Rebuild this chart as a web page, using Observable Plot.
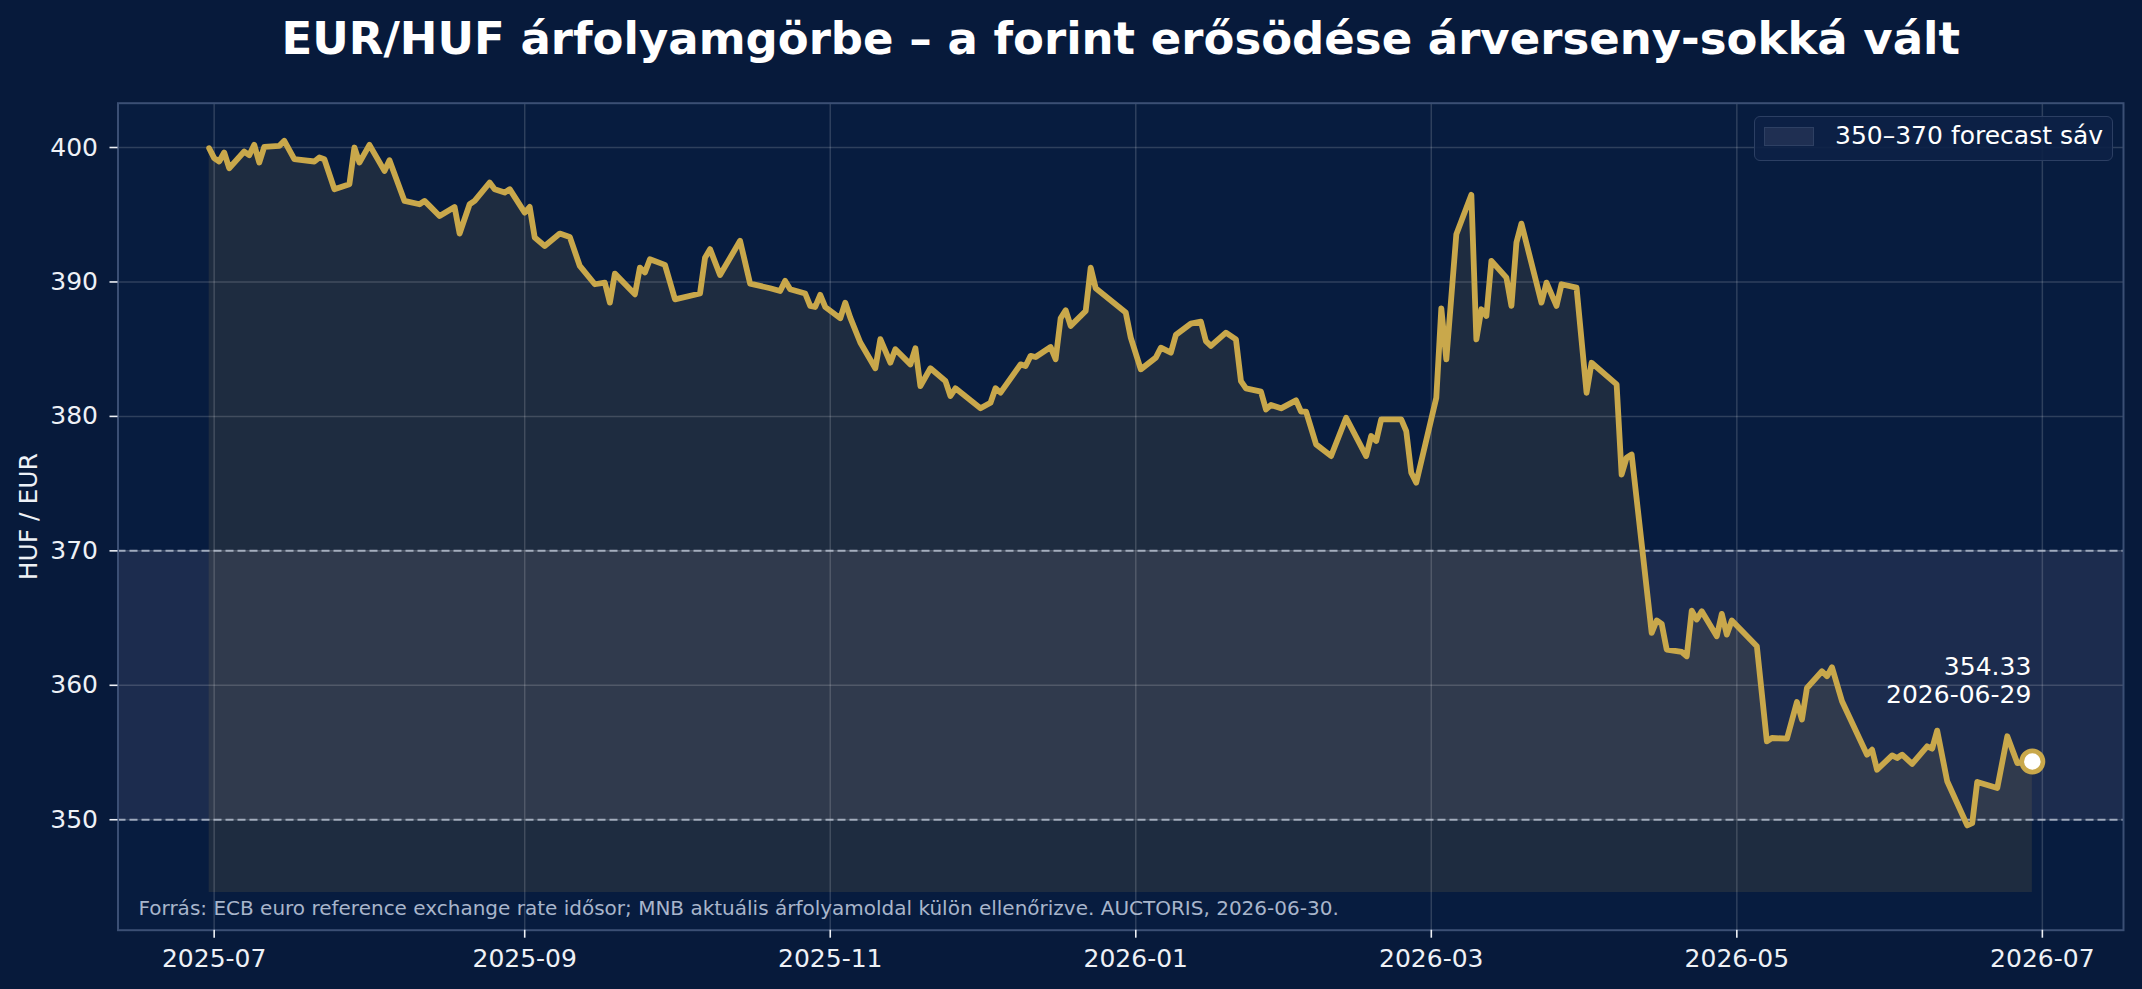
<!DOCTYPE html>
<html>
<head>
<meta charset="utf-8">
<script src="https://cdn.jsdelivr.net/npm/d3@7"></script>
<script src="https://cdn.jsdelivr.net/npm/@observablehq/plot@0.6"></script>
<style>
  html, body { margin: 0; padding: 0; background: #071a3b; }
  #wrap { position: relative; width: 2142px; height: 989px; overflow: hidden; }
  #legend {
    position: absolute; left: 1754px; top: 116px; width: 357px; height: 43px;
    border: 1.5px solid #2c3f63; border-radius: 6px; background: rgba(13,33,70,0.9);
    font-family: "DejaVu Sans", sans-serif; font-size: 25px; color: #ffffff;
  }
  #legend .patch {
    position: absolute; left: 9px; top: 10px; width: 48px; height: 17px;
    background: #1f2f52; border: 1.5px solid #2e4063;
  }
  #legend .lbl { position: absolute; left: 80px; top: 4px; white-space: nowrap; }
</style>
</head>
<body>
<div id="wrap"><div id="legend"><div class="patch"></div><div class="lbl">350–370 forecast sáv</div></div></div>
<script>
const titleText = "EUR/HUF árfolyamgörbe – a forint erősödése árverseny-sokká vált";
const captionText = "Forrás: ECB euro reference exchange rate idősor; MNB aktuális árfolyamoldal külön ellenőrizve. AUCTORIS, 2026-06-30.";
const yLabel = "HUF / EUR";

const dates = [
  "2025-06-30","2025-07-01","2025-07-02","2025-07-03","2025-07-04","2025-07-07","2025-07-08","2025-07-09","2025-07-10","2025-07-11",
  "2025-07-14","2025-07-15","2025-07-17","2025-07-21","2025-07-22","2025-07-23","2025-07-25","2025-07-28","2025-07-29","2025-07-30",
  "2025-08-01","2025-08-04","2025-08-05","2025-08-08","2025-08-11","2025-08-12","2025-08-13","2025-08-15","2025-08-18","2025-08-19",
  "2025-08-21","2025-08-22","2025-08-25","2025-08-26","2025-08-28","2025-08-29","2025-09-01","2025-09-02","2025-09-03","2025-09-05",
  "2025-09-08","2025-09-10","2025-09-12","2025-09-15","2025-09-17","2025-09-18","2025-09-19","2025-09-23","2025-09-24","2025-09-25",
  "2025-09-26","2025-09-29","2025-10-01","2025-10-06","2025-10-07","2025-10-08","2025-10-10","2025-10-14","2025-10-16","2025-10-20",
  "2025-10-22","2025-10-23","2025-10-24","2025-10-27","2025-10-28","2025-10-29","2025-10-30","2025-10-31","2025-11-03","2025-11-04",
  "2025-11-05","2025-11-07","2025-11-10","2025-11-11","2025-11-13","2025-11-14","2025-11-17","2025-11-18","2025-11-19","2025-11-21",
  "2025-11-24","2025-11-25","2025-11-26","2025-12-01","2025-12-03","2025-12-04","2025-12-05","2025-12-09","2025-12-10","2025-12-11",
  "2025-12-12","2025-12-15","2025-12-16","2025-12-17","2025-12-18","2025-12-19","2025-12-22","2025-12-23","2025-12-24","2025-12-30",
  "2025-12-31","2026-01-02","2026-01-05","2026-01-06","2026-01-08","2026-01-09","2026-01-12","2026-01-14","2026-01-15","2026-01-16",
  "2026-01-19","2026-01-21","2026-01-22","2026-01-23","2026-01-26","2026-01-27","2026-01-28","2026-01-30","2026-02-02","2026-02-03",
  "2026-02-04","2026-02-06","2026-02-09","2026-02-12","2026-02-16","2026-02-17","2026-02-18","2026-02-19","2026-02-23","2026-02-24",
  "2026-02-25","2026-02-26","2026-03-02","2026-03-03","2026-03-04","2026-03-06","2026-03-09","2026-03-10","2026-03-11","2026-03-12",
  "2026-03-13","2026-03-16","2026-03-17","2026-03-18","2026-03-19","2026-03-23","2026-03-24","2026-03-26","2026-03-27","2026-03-30",
  "2026-04-01","2026-04-02","2026-04-07","2026-04-08","2026-04-09","2026-04-10","2026-04-14","2026-04-15","2026-04-16","2026-04-17",
  "2026-04-20","2026-04-21","2026-04-22","2026-04-23","2026-04-24","2026-04-27","2026-04-28","2026-04-29","2026-04-30","2026-05-05",
  "2026-05-07","2026-05-08","2026-05-11","2026-05-13","2026-05-14","2026-05-15","2026-05-18","2026-05-19","2026-05-20","2026-05-22",
  "2026-05-27","2026-05-28","2026-05-29","2026-06-01","2026-06-02","2026-06-03","2026-06-05","2026-06-08","2026-06-09","2026-06-10",
  "2026-06-12","2026-06-16","2026-06-17","2026-06-18","2026-06-22","2026-06-24","2026-06-26","2026-06-29"
];
const rates = [
  399.95,399.21,398.96,399.63,398.46,399.70,399.43,400.20,398.88,400.05,
  400.12,400.50,399.13,398.96,399.26,399.13,396.90,397.27,400.00,398.88,
  400.20,398.26,399.06,396.03,395.78,396.03,395.66,394.91,395.58,393.60,
  395.78,396.03,397.39,396.90,396.65,396.90,395.16,395.58,393.30,392.68,
  393.60,393.35,391.19,389.83,389.95,388.46,390.62,389.08,391.07,390.70,
  391.69,391.27,388.71,389.14,391.80,392.44,390.52,393.06,389.88,389.53,
  389.33,390.08,389.46,389.14,388.22,388.14,389.04,388.14,387.30,388.46,
  387.35,385.50,383.58,385.74,384.00,385.00,383.87,385.07,382.26,383.58,
  382.63,381.52,382.09,380.60,381.02,382.09,381.77,383.87,383.75,384.50,
  384.42,385.16,384.25,387.30,387.90,386.73,387.84,391.07,389.53,387.72,
  385.86,383.50,384.37,385.11,384.74,386.06,386.90,387.05,385.60,385.24,
  386.23,385.73,382.63,382.09,381.84,380.52,380.85,380.60,381.19,380.35,
  380.35,377.92,377.05,379.90,377.05,378.54,378.17,379.78,379.78,378.91,
  375.81,375.07,381.39,388.04,384.24,393.55,396.48,385.73,387.97,387.47,
  391.57,390.32,388.22,392.93,394.34,388.46,389.95,388.22,389.83,389.58,
  381.76,383.99,382.38,375.68,376.93,377.17,363.90,364.82,364.57,362.66,
  362.48,362.16,365.56,364.89,365.51,363.65,365.31,363.77,364.82,362.90,
  355.83,356.08,356.03,358.76,357.45,359.80,361.04,360.67,361.34,358.81,
  354.84,355.21,353.72,354.79,354.59,354.84,354.15,355.46,355.29,356.63,
  352.86,349.58,349.75,352.81,352.36,356.21,354.22,354.33
];
const bandLow = [350];
const bandHigh = [370];
const xTickLabels = ["2025-07-01","2025-09-01","2025-11-01","2026-01-01","2026-03-01","2026-05-01","2026-07-01"];
const yTickValues = [350, 360, 370, 380, 390, 400];

const parse = d3.utcParse("%Y-%m-%d");
const data = dates.map((d, i) => ({date: parse(d), rate: rates[i]}));
const xTicks = xTickLabels.map(parse);
const last = data[data.length - 1];
const base = d3.min(rates) - 5;

const [d0, d1] = d3.extent(data, d => d.date);
const span = d1 - d0;
const xDomain = [new Date(+d0 - 0.05 * span), new Date(+d1 + 0.05 * span)];
const yLo = base, yHi = d3.max(rates);
const ySpan = yHi - yLo;
const yDomain = [yLo - 0.05 * ySpan, yHi + 0.05 * ySpan];

const gold = "#c9a84b";
const textColor = "#eef1f6";

const band = bandLow.map((lo, i) => ({lo, hi: bandHigh[i]}));

const chart = Plot.plot({
  width: 2142,
  height: 989,
  marginLeft: 117.5,
  marginRight: 19,
  marginTop: 102.7,
  marginBottom: 59.3,
  style: {background: "#071a3b", fontFamily: "DejaVu Sans, sans-serif", color: textColor, overflow: "visible"},
  x: {type: "utc", domain: xDomain},
  y: {domain: yDomain},
  marks: [
    Plot.frame({fill: "#071c3f", stroke: null}),
    Plot.rect(band, {y1: "lo", y2: "hi", fill: "#1c2c4e"}),
    Plot.areaY(data, {x: "date", y1: base, y2: "rate", fill: gold, fillOpacity: 0.12}),
    Plot.gridX(xTicks, {stroke: "#ffffff", strokeOpacity: 0.16, strokeWidth: 1.5}),
    Plot.gridY(yTickValues, {stroke: "#ffffff", strokeOpacity: 0.16, strokeWidth: 1.5}),
    Plot.ruleY(bandLow.concat(bandHigh), {stroke: "#c3ccdc", strokeOpacity: 0.75, strokeWidth: 2, strokeDasharray: "8,4"}),
    Plot.frame({stroke: "#3b4f74", strokeWidth: 2}),
    Plot.axisX(xTicks, {tickFormat: d3.utcFormat("%Y-%m"), tickSize: 8, tickPadding: 11, fontSize: 25, label: null, stroke: textColor, fill: textColor, strokeWidth: 1.6}),
    Plot.axisY(yTickValues, {tickSize: 8, tickPadding: 12, fontSize: 25, label: null, stroke: textColor, fill: textColor, strokeWidth: 1.6}),
    Plot.lineY(data, {x: "date", y: "rate", stroke: gold, strokeWidth: 5.8, strokeLinejoin: "round"}),
    Plot.dot([last], {x: "date", y: "rate", r: 10.6, fill: "#ffffff", stroke: gold, strokeWidth: 4.7}),
    Plot.text([last], {x: "date", y: "rate", text: d => `${d.rate.toFixed(2)}\n${d3.utcFormat("%Y-%m-%d")(d.date)}`,
      textAnchor: "end", lineAnchor: "bottom", lineHeight: 1.11, dx: -1, dy: -59, fontSize: 25, fill: "#ffffff"}),
    Plot.text([titleText], {frameAnchor: "top", dy: -63.5, fontSize: 45, fontWeight: "bold", fill: "#ffffff", lineAnchor: "middle"}),
    Plot.text([captionText], {frameAnchor: "bottom-left", dx: 20.5, dy: -21.8, textAnchor: "start", lineAnchor: "middle", fontSize: 20, fill: "#a8b5cb"}),
    Plot.text([yLabel], {frameAnchor: "left", dx: -89, rotate: -90, textAnchor: "middle", fontSize: 25, fill: textColor, lineAnchor: "middle"})
  ]
});
document.getElementById("wrap").prepend(chart);
</script>
</body>
</html>
